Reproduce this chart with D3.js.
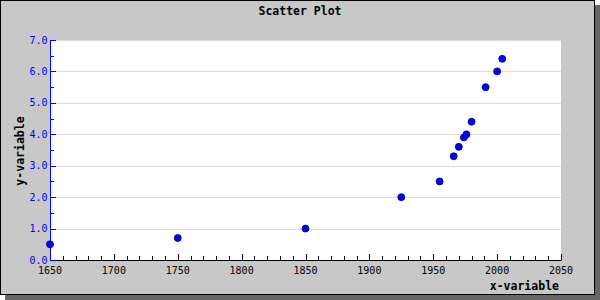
<!DOCTYPE html>
<html><head><meta charset="utf-8">
<script src="https://cdn.jsdelivr.net/npm/d3@7"></script>
<style>body{margin:0;padding:0;background:#fff}svg{display:block}</style>
</head><body>
<svg id="c" width="600" height="300"></svg>
<script>
const years = [1650, 1750, 1850, 1925, 1955, 1966, 1970, 1974, 1976, 1980, 1991, 2000, 2004];
const values = [0.5, 0.7, 1.0, 2.0, 2.5, 3.3, 3.6, 3.9, 4.0, 4.4, 5.5, 6.0, 6.4];
const xTicks = [1650, 1700, 1750, 1800, 1850, 1900, 1950, 2000, 2050];
const yTicks = [0, 1, 2, 3, 4, 5, 6, 7];
const title = "Scatter Plot";
const xTitle = "x-variable";
const yTitle = "y-variable";

const svg = d3.select("#c");
const font = "'DejaVu Sans Mono', monospace";
// shadow + frame
svg.append("rect").attr("x",5).attr("y",5).attr("width",595).attr("height",295).attr("fill","#666");
svg.append("rect").attr("x",0.5).attr("y",0.5).attr("width",594).attr("height",294).attr("fill","#c8c8c8").attr("stroke","#000").attr("stroke-width",1);

const L=50,R=561,T=40,B=260;
const x = d3.scaleLinear().domain([1650,2050]).range([L,R]);
const y = d3.scaleLinear().domain([0,7]).range([B,T]);

svg.append("rect").attr("x",L).attr("y",T).attr("width",R-L).attr("height",B-T).attr("fill","#fff");

// grid
svg.append("g").selectAll("line").data(yTicks.slice(1)).join("line")
  .attr("x1",L).attr("x2",R).attr("y1",d=>Math.round(y(d))+0.5).attr("y2",d=>Math.round(y(d))+0.5)
  .attr("stroke","#ddd").attr("stroke-width",1);

// x axis
const xMinor = d3.range(1650,2051,10);
const gx = svg.append("g");
gx.selectAll("line.mi").data(xMinor).join("line").attr("class","mi")
  .attr("x1",d=>Math.round(x(d))+0.5).attr("x2",d=>Math.round(x(d))+0.5)
  .attr("y1",B).attr("y2",d=>xTicks.includes(d)?B-6:B-4).attr("stroke","#000");
gx.append("line").attr("x1",L).attr("x2",R+0.5).attr("y1",B+0.5).attr("y2",B+0.5).attr("stroke","#000");
gx.selectAll("text").data(xTicks).join("text")
  .attr("x",d=>x(d)).attr("y",274).attr("text-anchor","middle")
  .attr("font-family",font).attr("font-size","10px").attr("fill","#000").text(d=>d);

// y axis
const yMinor = d3.range(0,7.01,0.5);
const gy = svg.append("g");
gy.selectAll("line").data(yMinor).join("line")
  .attr("x1",L).attr("x2",d=>Number.isInteger(d)?L+6:L+4)
  .attr("y1",d=>Math.round(y(d))+0.5).attr("y2",d=>Math.round(y(d))+0.5).attr("stroke","#00f");
gy.append("line").attr("x1",L+0.5).attr("x2",L+0.5).attr("y1",T).attr("y2",B+1).attr("stroke","#00f");
gy.selectAll("text").data(yTicks).join("text")
  .attr("x",47.5).attr("y",d=>y(d)+3.5).attr("text-anchor","end")
  .attr("font-family",font).attr("font-size","10px").attr("fill","#00f").text(d=>d.toFixed(1));

// points
svg.append("g").selectAll("circle").data(years.map((yr,i)=>[yr,values[i]])).join("circle")
  .attr("cx",d=>x(d[0])).attr("cy",d=>y(d[1])).attr("r",3.5)
  .attr("fill","#00f").attr("stroke","#000080").attr("stroke-width",0.8);

// titles
svg.append("text").attr("x",300).attr("y",15).attr("text-anchor","middle")
  .attr("font-family",font).attr("font-weight","bold").attr("font-size","11.5px").text(title);
svg.append("text").attr("x",559).attr("y",290).attr("text-anchor","end")
  .attr("font-family",font).attr("font-weight","bold").attr("font-size","11.5px").text(xTitle);
svg.append("text").attr("transform","translate(24,151) rotate(-90)").attr("text-anchor","middle")
  .attr("font-family",font).attr("font-weight","bold").attr("font-size","11.5px").text(yTitle);
</script>
</body></html>
